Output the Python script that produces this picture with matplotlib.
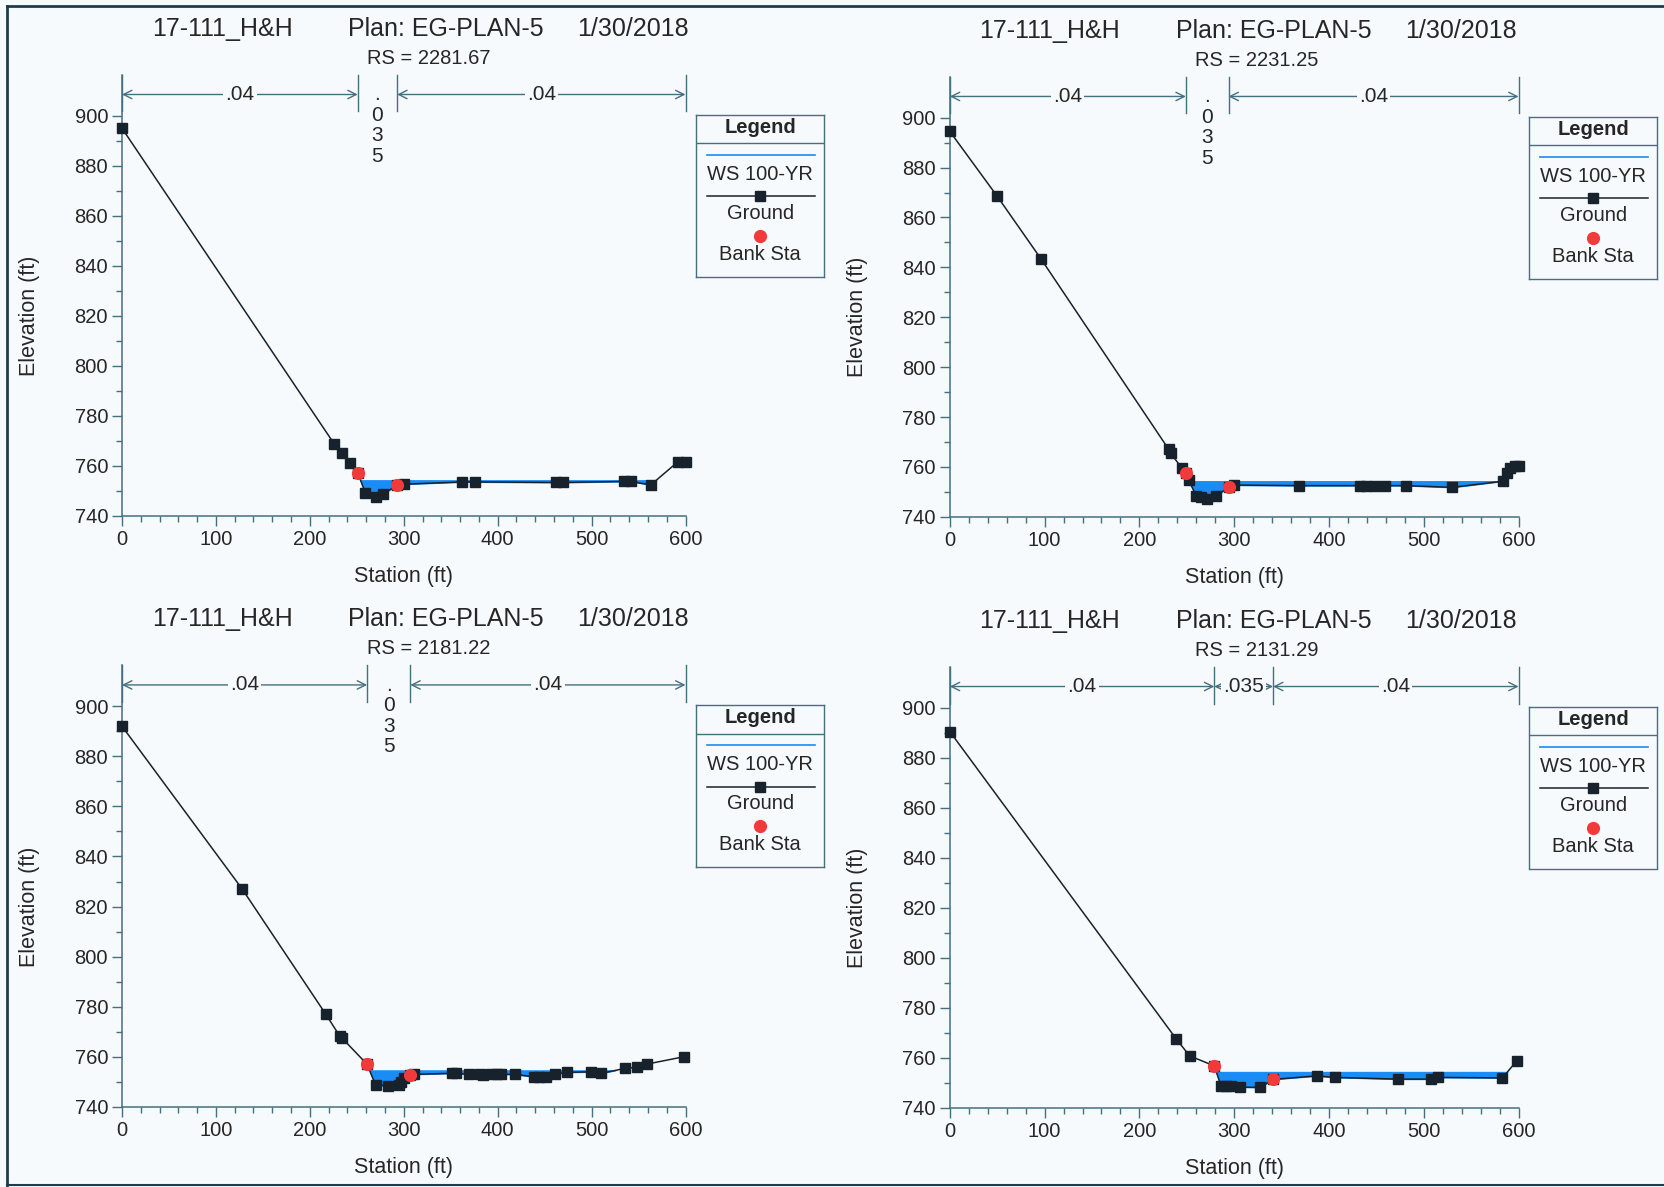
"""HEC-RAS cross sections, 17-111_H&H, plan EG-PLAN-5."""
import numpy as np
import matplotlib.pyplot as plt
from matplotlib.lines import Line2D
from matplotlib.ticker import MultipleLocator

plt.rcParams['font.family'] = ['Liberation Sans', 'DejaVu Sans']

# ---- data ----
project = '17-111_H&H'
plan = 'Plan: EG-PLAN-5'
run_date = '1/30/2018'
n_labels = ['.04', '.035', '.04']

rs_1 = '2281.67'
sta_1 = [0, 226, 234, 243, 251, 259, 270, 278, 293, 300, 362, 376, 462, 470,
         535, 542, 563, 592, 600]
elev_1 = [895, 768.7, 765, 761.2, 757.2, 749.2, 747.6, 748.7, 752.2, 752.6,
          753.5, 753.5, 753.3, 753.3, 753.7, 753.7, 752.3, 761.6, 761.6]
bank_sta_1 = [251, 293]
bank_elev_1 = [757.2, 752.3]
ws_1 = 754.2

rs_2 = '2231.25'
sta_2 = [0, 50, 96, 231, 233, 245, 249, 252, 260, 265, 271, 281, 294, 300, 368,
         433, 439, 448, 459, 481, 530, 584, 588, 591, 596, 600]
elev_2 = [894.5, 868.5, 843.5, 767, 765.5, 759.4, 757.4, 754.7, 748.3, 748,
          747.1, 748.3, 752, 752.7, 752.5, 752.5, 752.5, 752.5, 752.5, 752.5,
          751.8, 754.3, 757.4, 759.4, 760.3, 760.3]
bank_sta_2 = [249, 294]
bank_elev_2 = [757.4, 752.0]
ws_2 = 754.3

rs_3 = '2181.22'
sta_3 = [0, 128, 217, 232, 234, 261, 270, 283, 295, 297, 300, 307, 311, 351,
         356, 370, 381, 384, 393, 399, 404, 418, 439, 444, 451, 461, 474, 499,
         510, 536, 548, 559, 598]
elev_3 = [892, 827, 777, 768.2, 767.6, 757, 748.7, 748.4, 748.7, 750, 751.4,
          752.7, 753, 753.4, 753.4, 753, 753, 752.8, 753, 753, 753, 753, 752,
          752, 752, 753, 753.8, 754, 753.4, 755.4, 755.8, 757.1, 760]
bank_sta_3 = [261, 307]
bank_elev_3 = [757.0, 752.7]
ws_3 = 754.6

rs_4 = '2131.29'
sta_4 = [0, 239, 253, 279, 286, 291, 297, 306, 327, 341, 387, 406, 473, 508,
         515, 583, 598]
elev_4 = [890.5, 767.5, 760.8, 756.8, 748.9, 748.8, 748.6, 748.3, 748.2, 751.4,
          752.8, 752.2, 751.5, 751.5, 752.2, 752, 758.8]
bank_sta_4 = [279, 341]
bank_elev_4 = [756.8, 751.4]
ws_4 = 754.4

# ---- styling ----
W, H = 1664, 1187
BG = '#f6fafc'
AX_C = '#44707f'
TXT = '#262626'
GROUND_C = '#17222c'
WATER_C = '#1a8cf5'
BANK_C = '#f23a3a'
YTOP = 916.3

fig = plt.figure(figsize=(W / 100, H / 100), dpi=100, facecolor=BG)


def px_axes(l, t, r, b):
    return fig.add_axes([l / W, 1 - b / H, (r - l) / W, (b - t) / H])


def draw_legend(l, t):
    lg = px_axes(l, t, l + 128, t + 162)
    lg.set_facecolor(BG)
    lg.set_xlim(0, 128)
    lg.set_ylim(162, 0)
    lg.set_xticks([])
    lg.set_yticks([])
    for s in lg.spines.values():
        s.set_color(AX_C)
        s.set_linewidth(1)
    lg.text(64, 13, 'Legend', ha='center', va='center', fontsize=14.5,
            fontweight='bold', color=TXT)
    lg.plot([0, 128], [28.7, 28.7], color=AX_C, lw=1)
    lg.plot([11, 119], [40.3, 40.3], color=WATER_C, lw=1.2)
    lg.text(64, 59.5, 'WS 100-YR', ha='center', va='center', fontsize=14.5, color=TXT)
    lg.plot([11, 119], [81.7, 81.7], color=GROUND_C, lw=1.1)
    lg.plot([64], [81.7], 's', color=GROUND_C, ms=6.5)
    lg.text(64, 99, 'Ground', ha='center', va='center', fontsize=14.5, color=TXT)
    lg.plot([64], [121], 'o', color=BANK_C, ms=9.5, mec='none')
    lg.text(64, 140, 'Bank Sta', ha='center', va='center', fontsize=14.5, color=TXT)


def draw_panel(box, rs, sta, elev, bank_sta, bank_elev, ws):
    l, t, r, b = box
    ax = px_axes(l, t, r, b)
    ax.set_facecolor('none')
    ax.set_xlim(0, 600)
    ax.set_ylim(740, YTOP)
    for s in ('top', 'right'):
        ax.spines[s].set_visible(False)
    for s in ('left', 'bottom'):
        ax.spines[s].set_color(AX_C)
        ax.spines[s].set_linewidth(1.1)
    ax.set_xticks(range(0, 601, 100))
    ax.xaxis.set_minor_locator(MultipleLocator(20))
    ax.set_yticks(range(740, 901, 20))
    ax.set_yticks(range(750, 900, 10), minor=True)
    ax.tick_params(which='both', direction='out', color=AX_C, width=1,
                   labelcolor=TXT, labelsize=14.5)
    ax.tick_params(which='major', length=7, pad=3)
    ax.tick_params(which='minor', length=4.5)

    sta = np.array(sta, dtype=float)
    elev = np.array(elev, dtype=float)
    ax.fill_between(sta, elev, ws, where=elev < ws, interpolate=True,
                    color=WATER_C, lw=0.8, edgecolor=WATER_C, zorder=2)
    ax.plot(sta, elev, color=GROUND_C, lw=1.1, marker='s', ms=6.5,
            clip_on=False, zorder=4)
    ax.plot(bank_sta, bank_elev, 'o', color=BANK_C, ms=9.5, mec='none', zorder=5)

    # Manning's n bar across the top
    edges = [0, bank_sta[0], bank_sta[1], 600]
    for x in edges:
        ax.plot([x, x], [901.7, YTOP], color=AX_C, lw=1, clip_on=False)
    y_arr = 908.5
    arrow = dict(arrowstyle='<->,head_length=0.6,head_width=0.3', color=AX_C,
                 lw=1, shrinkA=0, shrinkB=0)
    wide_channel = (bank_sta[1] - bank_sta[0]) > 55
    for i in range(3):
        x0, x1 = edges[i], edges[i + 1]
        xm = (x0 + x1) / 2
        if i == 1 and not wide_channel:
            ax.text(xm, 896, '.\n0\n3\n5', ha='center', va='center',
                    fontsize=15, color=TXT, linespacing=1.1)
            continue
        ax.annotate('', xy=(x1, y_arr), xytext=(x0, y_arr), arrowprops=arrow)
        ax.text(xm, y_arr, n_labels[i], ha='center', va='center', fontsize=15,
                color=TXT, bbox=dict(boxstyle='square,pad=0.1', fc=BG, ec='none'))

    # titles and axis labels
    for txt, dx in ((project, 100), (plan, 324), (run_date, 511)):
        ax.annotate(txt, xy=(0, 1), xycoords='axes fraction', xytext=(dx, 46),
                    textcoords='offset pixels', ha='center', va='center',
                    fontsize=18, color=TXT)
    ax.annotate('RS = ' + rs, xy=(0, 1), xycoords='axes fraction',
                xytext=(307, 17), textcoords='offset pixels', ha='center',
                va='center', fontsize=14.5, color=TXT)
    ax.annotate('Station (ft)', xy=(0.5, 0), xycoords='axes fraction',
                xytext=(0, -61), textcoords='offset pixels', ha='center',
                va='center', fontsize=15.5, color=TXT)
    ax.annotate('Elevation (ft)', xy=(0, (820 - 740) / (YTOP - 740)),
                xycoords='axes fraction', xytext=(-92, 0),
                textcoords='offset pixels', ha='center', va='center',
                rotation=90, fontsize=15.5, color=TXT)

    draw_legend(r + 10.6, t + 39.5)


draw_panel((122, 75, 685.5, 515.7), rs_1, sta_1, elev_1, bank_sta_1, bank_elev_1, ws_1)
draw_panel((949.8, 77, 1518.6, 516.8), rs_2, sta_2, elev_2, bank_sta_2, bank_elev_2, ws_2)
draw_panel((122, 665.4, 685.5, 1106.9), rs_3, sta_3, elev_3, bank_sta_3, bank_elev_3, ws_3)
draw_panel((949.8, 667, 1518.6, 1107.9), rs_4, sta_4, elev_4, bank_sta_4, bank_elev_4, ws_4)

# scanned page border
BORDER = '#1d3d4c'
fig.add_artist(Line2D([7 / W, 7 / W], [0, 1 - 6 / H], color=BORDER, lw=2))
fig.add_artist(Line2D([7 / W, 1], [1 - 6 / H, 1 - 6 / H], color=BORDER, lw=2))
fig.add_artist(Line2D([7 / W, 1], [1 - 1185 / H, 1 - 1185 / H], color=BORDER, lw=1.5))

fig.savefig('out.png', dpi=100, facecolor=BG)
